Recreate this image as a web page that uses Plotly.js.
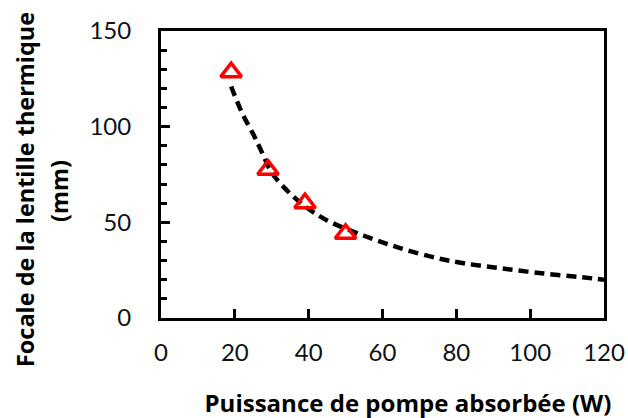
<!DOCTYPE html>
<html>
<head>
<meta charset="utf-8">
<script src="https://cdn.plot.ly/plotly-3.0.1.min.js"></script>
<style>
html,body{margin:0;padding:0;background:#fff;}
#wrap{position:relative;width:628px;height:418px;}
#chart{position:absolute;left:0;top:0;width:628px;height:418px;}
#titles{position:absolute;left:0;top:0;pointer-events:none;}
#titles text{font-family:"Open Sans","Noto Sans",sans-serif;font-weight:bold;fill:#000;}
</style>
</head>
<body>
<div id="wrap">
<div id="chart"></div>
<svg id="titles" width="628" height="418" xmlns="http://www.w3.org/2000/svg"></svg>
</div>
<script>
// Measured points (triangles)
const measPower = [19, 29, 39, 50];
const measFocal = [128.5, 77.5, 60, 44];
// Fitted dashed curve
const fitPower = [19, 22, 25, 27, 30, 35, 40, 45, 55, 65, 75, 82, 92, 103, 114, 120];
const fitFocal = [121, 107, 96, 88, 76, 65, 57, 51, 43, 36.4, 31.2, 28.6, 26, 23.4, 21.3, 20];
const xTitle = 'Puissance de pompe absorbée (W)';
const yTitle1 = 'Focale de la lentille thermique';
const yTitle2 = '(mm)';

const traces = [
  {x: fitPower, y: fitFocal, type: 'scatter', mode: 'lines', line: {color: '#000', width: 4.5, dash: '10px,6px', shape: 'spline'}, hoverinfo: 'skip'},
  {x: measPower, y: measFocal, type: 'scatter', mode: 'markers', marker: {symbol: 'triangle-up-open', size: 18, color: '#ff0000', line: {color: '#ff0000', width: 3.5}}}
];
const fontFam = 'Lato, "Open Sans", sans-serif';
const layout = {
  width: 628, height: 418,
  margin: {l: 161, r: 24, t: 31, b: 100},
  showlegend: false,
  font: {family: fontFam, color: '#000'},
  xaxis: {range: [0, 120], dtick: 20, showgrid: false, zeroline: false,
    showline: true, linecolor: '#000', linewidth: 3, mirror: true,
    ticks: 'inside', ticklen: 9, tickwidth: 3, tickcolor: '#000',
    ticklabelstandoff: 11,
    tickfont: {family: fontFam, size: 24, color: '#111'}},
  yaxis: {range: [0, 150], dtick: 50, showgrid: false, zeroline: false,
    showline: true, linecolor: '#000', linewidth: 3, mirror: true,
    ticks: 'inside', ticklen: 9, tickwidth: 3, tickcolor: '#000',
    minor: {dtick: 10, ticks: 'inside', ticklen: 6, tickwidth: 3, tickcolor: '#000', showgrid: false},
    ticklabelstandoff: 22,
    tickfont: {family: fontFam, size: 24, color: '#111'}}
};

const svgNS = 'http://www.w3.org/2000/svg';
function addTitle(str, cx, cy, len, rot) {
  const svg = document.getElementById('titles');
  const t = document.createElementNS(svgNS, 'text');
  t.setAttribute('x', 0); t.setAttribute('y', 0);
  t.setAttribute('text-anchor', 'middle');
  t.setAttribute('font-size', 24);
  t.setAttribute('textLength', len);
  t.setAttribute('lengthAdjust', 'spacingAndGlyphs');
  t.setAttribute('transform', 'translate(' + cx + ',' + cy + ')' + (rot ? ' rotate(' + rot + ')' : ''));
  t.textContent = str;
  svg.appendChild(t);
}
Plotly.newPlot('chart', traces, layout, {displayModeBar: false, staticPlot: true}).then(function(){
  addTitle(xTitle, 408, 412, 407, 0);
  addTitle(yTitle1, 34, 189.5, 355, -90);
  addTitle(yTitle2, 68, 191, 62, -90);
  const gd = document.getElementById('chart');
  gd.setAttribute('data-ticks', gd.querySelectorAll('path.xtick, path.ytick').length);
});
</script>
</body>
</html>
